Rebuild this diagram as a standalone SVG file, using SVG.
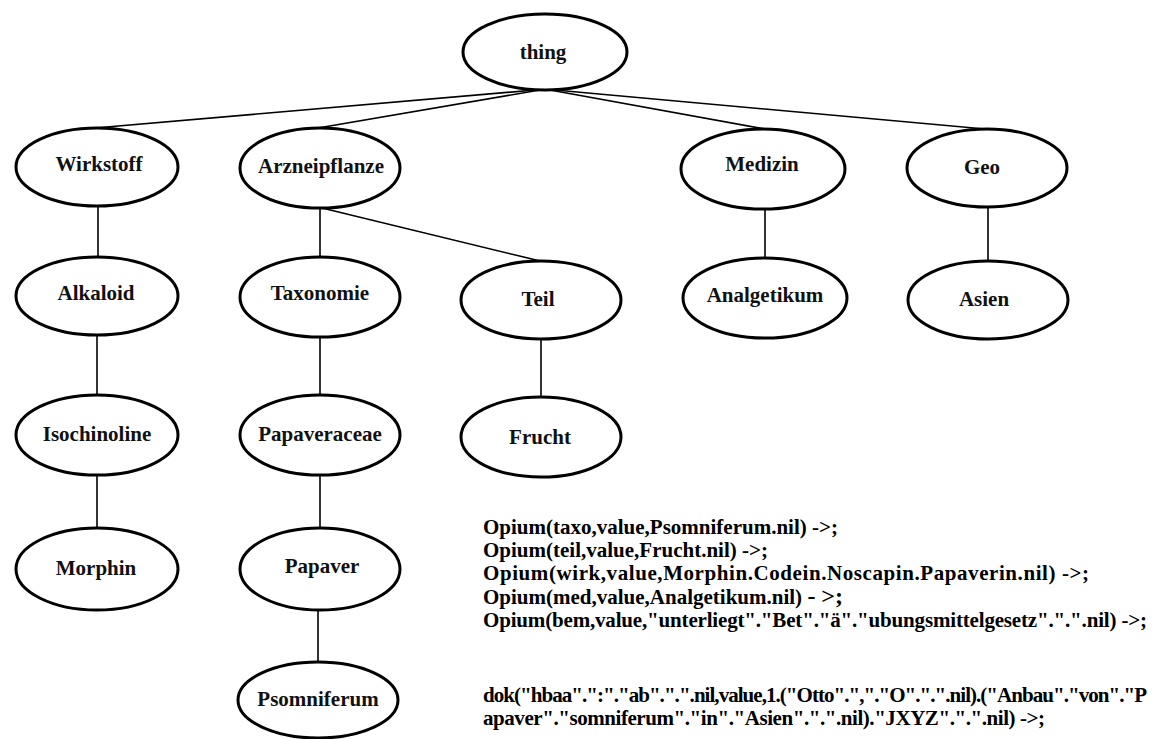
<svg xmlns="http://www.w3.org/2000/svg" width="1159" height="739" viewBox="0 0 1159 739">
<style>
.node ellipse{fill:none;stroke:#000;stroke-width:3}
.node text{font-family:"Liberation Serif",serif;font-weight:bold;font-size:21px;text-anchor:middle;fill:#111}
.edges line{stroke:#000;stroke-width:1.6}
.code{font-family:"Liberation Serif",serif;font-weight:bold;font-size:21px;fill:#000}
</style>
<rect width="1159" height="739" fill="#fff"/>
<g class="edges" id="connectors">
<line x1="535" y1="90" x2="95" y2="128"/>
<line x1="540" y1="90" x2="318" y2="128"/>
<line x1="550" y1="90" x2="765" y2="129"/>
<line x1="555" y1="90" x2="985" y2="129"/>
<line x1="320" y1="208" x2="320" y2="257"/>
<line x1="322" y1="208" x2="540" y2="261"/>
<line x1="98" y1="206" x2="98" y2="257"/>
<line x1="97" y1="335" x2="97" y2="395"/>
<line x1="97" y1="475" x2="97" y2="528"/>
<line x1="320" y1="337" x2="320" y2="395"/>
<line x1="320" y1="475" x2="320" y2="528"/>
<line x1="318" y1="610" x2="318" y2="662"/>
<line x1="541" y1="339" x2="541" y2="397"/>
<line x1="765" y1="209" x2="765" y2="258"/>
<line x1="988" y1="207" x2="988" y2="261"/>
</g>
<g class="node" id="n-thing"><ellipse cx="545" cy="52" rx="82" ry="38"/><text x="543" y="59">thing</text></g>
<g class="node" id="n-wirkstoff"><ellipse cx="97" cy="167" rx="81" ry="39"/><text x="99" y="171">Wirkstoff</text></g>
<g class="node" id="n-arzneipflanze"><ellipse cx="320" cy="168" rx="80" ry="40"/><text x="321" y="173">Arzneipflanze</text></g>
<g class="node" id="n-medizin"><ellipse cx="763" cy="169" rx="82" ry="40"/><text x="762" y="171">Medizin</text></g>
<g class="node" id="n-geo"><ellipse cx="987" cy="168" rx="80" ry="39"/><text x="982" y="174">Geo</text></g>
<g class="node" id="n-alkaloid"><ellipse cx="97" cy="296" rx="81" ry="39"/><text x="96" y="300">Alkaloid</text></g>
<g class="node" id="n-taxonomie"><ellipse cx="320" cy="297" rx="80" ry="40"/><text x="320" y="300">Taxonomie</text></g>
<g class="node" id="n-teil"><ellipse cx="541" cy="300" rx="80" ry="39"/><text x="538" y="306">Teil</text></g>
<g class="node" id="n-analgetikum"><ellipse cx="765" cy="298" rx="82" ry="40"/><text x="765" y="302">Analgetikum</text></g>
<g class="node" id="n-asien"><ellipse cx="988" cy="300" rx="80" ry="39"/><text x="984" y="306">Asien</text></g>
<g class="node" id="n-isochinoline"><ellipse cx="97" cy="435" rx="81" ry="40"/><text x="97" y="441">Isochinoline</text></g>
<g class="node" id="n-papaveraceae"><ellipse cx="320" cy="435" rx="80" ry="40"/><text x="320" y="441">Papaveraceae</text></g>
<g class="node" id="n-frucht"><ellipse cx="541" cy="437" rx="80" ry="40"/><text x="540" y="444">Frucht</text></g>
<g class="node" id="n-morphin"><ellipse cx="97" cy="569" rx="81" ry="41"/><text x="96" y="575">Morphin</text></g>
<g class="node" id="n-papaver"><ellipse cx="320" cy="569" rx="80" ry="41"/><text x="322" y="573">Papaver</text></g>
<g class="node" id="n-psomniferum"><ellipse cx="318" cy="700" rx="80" ry="38"/><text x="318" y="706">Psomniferum</text></g>
<g id="code">
<text class="code" x="483" y="534">Opium(taxo,value,Psomniferum.nil) -&gt;;</text>
<text class="code" x="483" y="557">Opium(teil,value,Frucht.nil) -&gt;;</text>
<text class="code" x="483" y="580" textLength="606" lengthAdjust="spacing">Opium(wirk,value,Morphin.Codein.Noscapin.Papaverin.nil) -&gt;;</text>
<text class="code" x="483" y="604">Opium(med,value,Analgetikum.nil) <tspan font-size="24">- &gt;;</tspan></text>
<text class="code" x="483" y="627" textLength="664" lengthAdjust="spacing">Opium(bem,value,"unterliegt"."Bet"."ä"."ubungsmittelgesetz".".".nil) -&gt;;</text>
<text class="code" x="483" y="702" font-size="19" textLength="664" lengthAdjust="spacing">dok("hbaa".":"."ab".".".nil,value,1.("Otto".","."O".".".nil).("Anbau"."von"."P</text>
<text class="code" x="483" y="725" font-size="20" textLength="562" lengthAdjust="spacing">apaver"."somniferum"."in"."Asien".".".nil)."JXYZ".".".nil) -&gt;;</text>
</g>
</svg>
